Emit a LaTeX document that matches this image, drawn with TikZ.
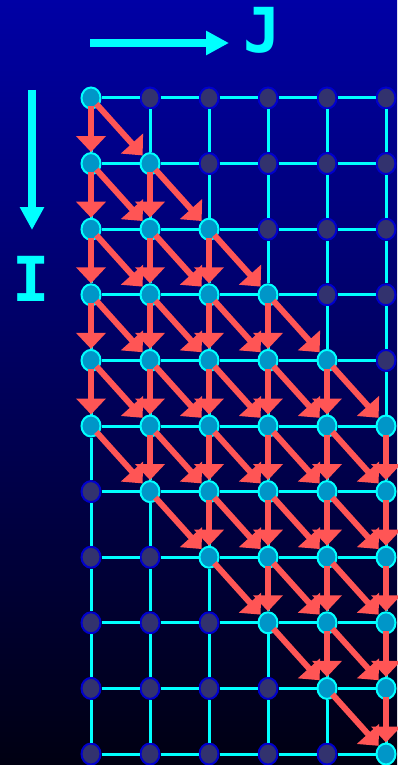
\documentclass[tikz,border=0pt]{standalone}
\definecolor{bgtop}{RGB}{0,0,165}
\definecolor{bgbot}{RGB}{0,0,18}
\definecolor{gridcyan}{RGB}{0,255,255}
\definecolor{activefill}{RGB}{0,150,200}
\definecolor{idlefill}{RGB}{50,50,110}
\definecolor{idleborder}{RGB}{0,0,205}
\definecolor{depred}{RGB}{255,85,85}
\usepackage{fontspec}
\newfontfamily\axisfont{DejaVu Sans Mono}
\usepackage{tikz}
\usetikzlibrary{positioning,arrows.meta,shapes.geometric}

\begin{document}
\begin{tikzpicture}[x=1pt, y=-1pt,
    cell/.style   ={ellipse, inner sep=0pt, minimum width=19pt, minimum height=21pt, line width=2pt},
    active/.style ={cell, draw=gridcyan, fill=activefill},
    idle/.style   ={cell, draw=idleborder, fill=idlefill},
    gridline/.style={gridcyan, line width=3pt},
    dep/.style    ={-{Triangle[length=16pt, width=29pt]}, line width=6pt, depred, shorten <=-3pt},
    axis/.style   ={-{Triangle[length=23pt, width=23pt]}, line width=7.5pt, gridcyan},
    axislabel/.style={text=gridcyan, inner sep=0pt, font=\axisfont\bfseries\fontsize{62}{62}\selectfont}]
    \useasboundingbox (0,0) rectangle (397,765);
    \shade[top color=bgtop, bottom color=bgbot] (0,0) rectangle (397,765);
    % index directions
    \coordinate (jfrom) at (90,43);
    \coordinate (jto)   at (229,43);
    \draw[axis] (jfrom) -- (jto);
    \node[axislabel, anchor=base] (jlab) at (262,53) {J};
    \coordinate (ifrom) at (32,90);
    \coordinate (ito)   at (32,230);
    \draw[axis] (ifrom) -- (ito);
    \node[axislabel, anchor=base] (ilab) at (31,301) {I};
    % grid points, band 0 <= i-j <= 5 is active
    \foreach \i in {0,...,10} {
      \foreach \j in {0,...,5} {
        \pgfmathtruncatemacro\d{\i-\j}
        \pgfmathsetmacro\px{91+59*\j}
        \pgfmathsetmacro\py{98+65.6*\i}
        \ifnum\d<0
          \node[idle] (n-\i-\j) at (\px,\py) {};
        \else\ifnum\d>5
          \node[idle] (n-\i-\j) at (\px,\py) {};
        \else
          \node[active] (n-\i-\j) at (\px,\py) {};
        \fi\fi
      }
    }
    % grid lines
    \foreach \i in {0,...,10} {
      \foreach \j [count=\k] in {0,...,4} {
        \draw[gridline] (n-\i-\j) -- (n-\i-\k);
      }
    }
    \foreach \j in {0,...,5} {
      \foreach \i [count=\k] in {0,...,9} {
        \draw[gridline] (n-\i-\j) -- (n-\k-\j);
      }
    }
    % dependences
    \foreach \i [count=\k] in {0,...,9} {
      \foreach \j in {0,...,5} {
        \pgfmathtruncatemacro\d{\i-\j}
        \pgfmathtruncatemacro\r{\j+1}
        \ifnum\d>-1 \ifnum\d<5
          \draw[dep] (n-\i-\j) -- (n-\k-\j);
        \fi\fi
        \ifnum\d>-1 \ifnum\d<6 \ifnum\j<5
          \draw[dep] (n-\i-\j) -- (n-\k-\r);
        \fi\fi\fi
      }
    }
\end{tikzpicture}
\end{document}
